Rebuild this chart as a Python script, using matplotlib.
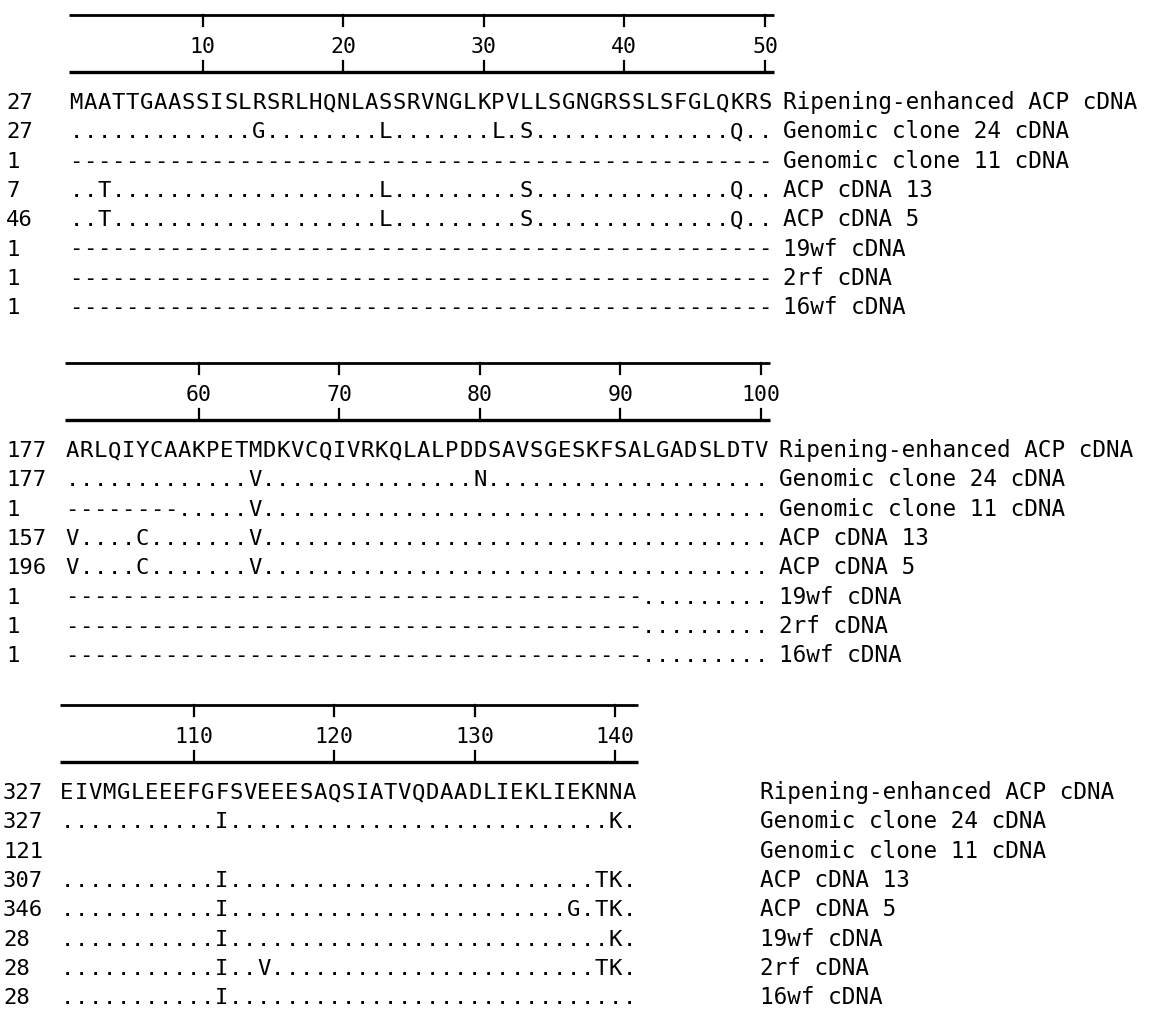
import matplotlib
matplotlib.use("Agg")
import matplotlib.pyplot as plt

# alignment data, three blocks of residues
row_names = ["Ripening-enhanced ACP cDNA", "Genomic clone 24 cDNA", "Genomic clone 11 cDNA",
             "ACP cDNA 13", "ACP cDNA 5", "19wf cDNA", "2rf cDNA", "16wf cDNA"]

start_1 = [27, 27, 1, 7, 46, 1, 1, 1]
start_2 = [177, 177, 1, 157, 196, 1, 1, 1]
start_3 = [327, 327, 121, 307, 346, 28, 28, 28]

rows_1 = [
    "MAATTGAASSISLRSRLHQNLASSRVNGLKPVLLSGNGRSSLSFGLQKRS",
    ".............G........L.......L.S..............Q..",
    "--------------------------------------------------",
    "..T...................L.........S..............Q..",
    "..T...................L.........S..............Q..",
    "--------------------------------------------------",
    "--------------------------------------------------",
    "--------------------------------------------------",
]
rows_2 = [
    "ARLQIYCAAKPETMDKVCQIVRKQLALPDDSAVSGESKFSALGADSLDTV",
    ".............V...............N....................",
    "--------.....V....................................",
    "V....C.......V....................................",
    "V....C.......V....................................",
    "-----------------------------------------.........",
    "-----------------------------------------.........",
    "-----------------------------------------.........",
]
rows_3 = [
    "EIVMGLEEEFGFSVEEESAQSIATVQDAADLIEKLIEKNNA",
    "...........I...........................K.",
    "",
    "...........I..........................TK.",
    "...........I........................G.TK.",
    "...........I...........................K.",
    "...........I..V.......................TK.",
    "...........I.............................",
]
ticks_1 = [10, 20, 30, 40, 50]
ticks_2 = [60, 70, 80, 90, 100]
ticks_3 = [110, 120, 130, 140]
first_res = [1, 51, 101]

blocks = [(start_1, rows_1, ticks_1), (start_2, rows_2, ticks_2), (start_3, rows_3, ticks_3)]

fig = plt.figure(figsize=(11.49, 10.16), dpi=100)
ax = fig.add_axes([0, 0, 1, 1])
ax.set_xlim(0, 1149)
ax.set_ylim(1016, 0)
ax.axis('off')

pitch = 14.06
x0s = [69, 65, 60]
num_x = [6, 6, 3]
name_x = [783, 779, 760]
y_off = [0, 348, 690]
mono = 'DejaVu Sans Mono'

for b, (starts, rows, ticks) in enumerate(blocks):
    x0 = x0s[b]
    off = y_off[b]
    nres = len(rows[0])
    top = 15 + off
    bot = 72 + off
    xend = x0 + nres * pitch + 2
    ax.plot([x0, xend], [top, top], color='black', lw=2.0, solid_capstyle='butt')
    ax.plot([x0, xend], [bot, bot], color='black', lw=2.4, solid_capstyle='butt')
    for t in ticks:
        xt = x0 + (t - first_res[b] + 0.5) * pitch
        ax.plot([xt, xt], [top, top + 11], color='black', lw=1.6)
        ax.plot([xt, xt], [bot - 11, bot], color='black', lw=1.6)
        ax.text(xt, 53 + off, str(t), ha='center', va='baseline', fontsize=15.5, family=mono)

    for r, seq in enumerate(rows):
        yb = 101 + 29.3 * r + off + 8
        ax.text(num_x[b], yb, str(starts[r]), ha='left', va='baseline', fontsize=16, family=mono)
        for i, ch in enumerate(seq):
            ax.text(x0 + (i + 0.5) * pitch, yb, ch, ha='center', va='baseline',
                    fontsize=16, family=mono)
        ax.text(name_x[b], yb, row_names[r], ha='left', va='baseline', fontsize=16.3, family=mono)

fig.savefig('out.png', dpi=100, facecolor='white')
